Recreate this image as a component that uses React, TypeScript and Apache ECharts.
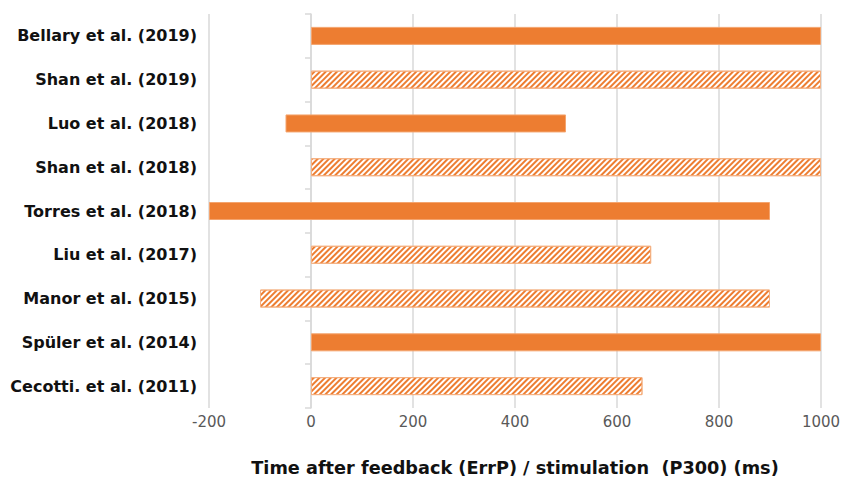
import React, { useEffect, useRef } from "react";
import * as echarts from "echarts";

const categories = [
  "Bellary et al. (2019)",
  "Shan et al. (2019)",
  "Luo et al. (2018)",
  "Shan et al. (2018)",
  "Torres et al. (2018)",
  "Liu et al. (2017)",
  "Manor et al. (2015)",
  "Spüler et al. (2014)",
  "Cecotti. et al. (2011)",
];
const startMs = [0, 0, -50, 0, -200, 0, -100, 0, 0];
const endMs = [1000, 1000, 500, 1000, 900, 667, 900, 1000, 650];
const hatched = [false, true, false, true, false, true, true, false, true];
const xTicks = { min: -200, max: 1000, interval: 200 };
const axisTitle = "Time after feedback (ErrP) / stimulation  (P300) (ms)";

const ORANGE = "#ED7D31";
const FONT = "'DejaVu Sans', Verdana, sans-serif";

export default function App() {
  const ref = useRef<HTMLDivElement>(null);
  useEffect(() => {
    if (!ref.current) return;
    const chart = echarts.init(ref.current, null, { renderer: "svg" });
    const lengths = endMs.map((e, i) => {
      const len = e - startMs[i];
      if (hatched[i]) {
        return {
          value: len,
          itemStyle: {
            color: "#ffffff",
            borderColor: "#F4B183",
            borderWidth: 1,
            decal: {
              symbol: "rect",
              symbolSize: 1,
              color: ORANGE,
              dashArrayX: [1, 0],
              dashArrayY: [1.3, 1.3],
              rotation: -Math.PI / 4,
            },
          },
        };
      }
      return { value: len, itemStyle: { color: ORANGE, borderColor: "#F4A46E", borderWidth: 1 } };
    });
    chart.setOption({
      animation: false,
      grid: { left: 209, right: 25, top: 14, bottom: 77 },
      xAxis: {
        type: "value",
        min: xTicks.min,
        max: xTicks.max,
        interval: xTicks.interval,
        axisLine: { show: false },
        axisTick: { show: false },
        splitLine: { lineStyle: { color: "#d9d9d9", width: 1.5 } },
        axisLabel: {
          color: "#595959",
          fontSize: 15,
          fontFamily: FONT,
          margin: 6,
          formatter: (v: number) => String(v),
        },
        name: axisTitle,
        nameLocation: "middle",
        nameGap: 51,
        nameTextStyle: { color: "#111", fontSize: 17.7, fontWeight: "bold", fontFamily: FONT },
      },
      yAxis: [
        {
          type: "category",
          data: categories,
          inverse: true,
          axisLine: { show: false, onZero: false },
          axisTick: { show: false },
          axisLabel: { color: "#111", fontSize: 16, fontWeight: "bold", fontFamily: FONT, margin: 12 },
        },
        {
          type: "category",
          data: categories,
          inverse: true,
          position: "left",
          axisLine: { show: true, onZero: true, lineStyle: { color: "#d9d9d9", width: 1.5 } },
          axisTick: { show: true, length: 6, lineStyle: { color: "#d9d9d9", width: 1.5 } },
          axisLabel: { show: false },
        },
      ],
      series: [
        {
          type: "bar",
          stack: "span",
          stackStrategy: "all",
          data: startMs,
          barWidth: 18,
          itemStyle: { color: "transparent" },
          silent: true,
        },
        {
          type: "bar",
          stack: "span",
          stackStrategy: "all",
          data: lengths,
          barWidth: 18,
        },
      ],
    });
    return () => chart.dispose();
  }, []);
  return <div ref={ref} style={{ width: 846, height: 485, position: "absolute", left: 0, top: 0 }} />;
}
